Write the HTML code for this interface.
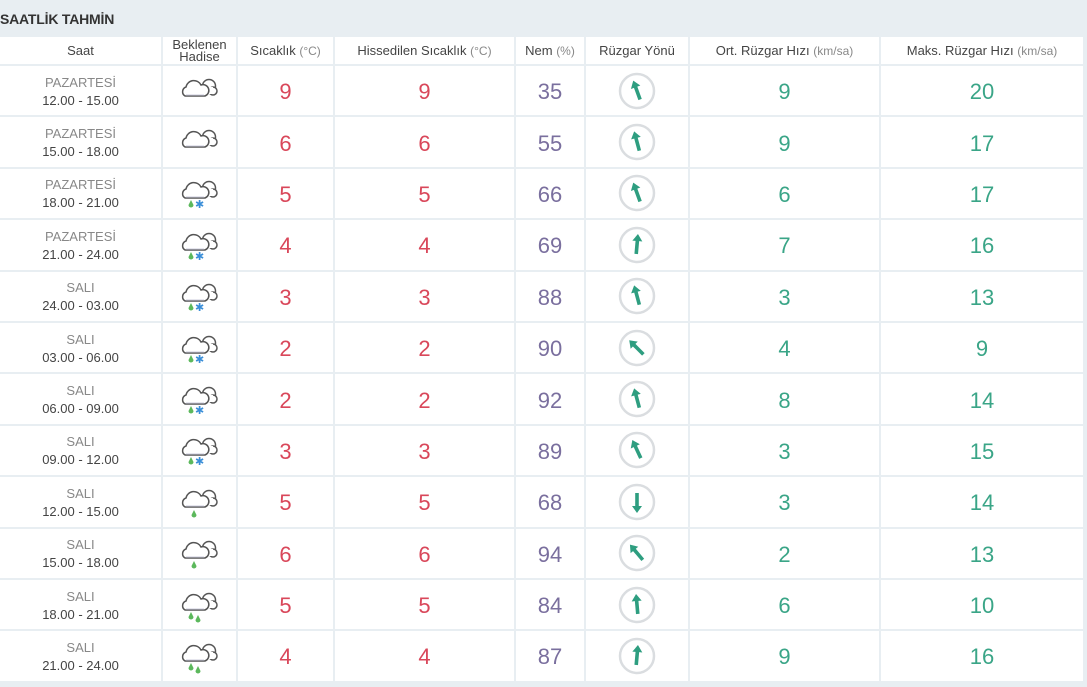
<!DOCTYPE html>
<html><head><meta charset="utf-8"><style>
body{margin:0;width:1087px;height:687px;background:#e8eef2;font-family:"Liberation Sans",sans-serif;overflow:hidden}
.title{position:absolute;left:0;top:0;width:1087px;height:37px;line-height:39px;font-weight:bold;font-size:14px;color:#333;letter-spacing:-0.2px}
.grid{position:absolute;left:0;top:37px;display:grid;grid-template-columns:161px 73px 95px 179px 68px 102px 189px 202px;grid-template-rows:27px repeat(12,49.4px);gap:2px;padding-right:2px;background:#e8eef2}
.grid div{background:#fff;display:flex;align-items:center;justify-content:center;text-align:center}
.h{font-size:13px;color:#444;line-height:12px}
.h small{font-size:12px;color:#888}
.t{flex-direction:column;font-size:13px;color:#444;line-height:18px;padding-top:2px}
.t span{color:#888}
.r{color:#d9475a;font-size:22px;padding-top:3px}
.p{color:#7a6f9e;font-size:22px;padding-top:3px}
.g{color:#3aa587;font-size:22px;padding-top:3px}
</style></head><body>
<div class="title">SAATLİK TAHMİN</div>
<div class="grid" id="g">
<div class="h">Saat</div><div class="h">Beklenen<br>Hadise</div><div class="h">Sıcaklık&nbsp;<small>(°C)</small></div><div class="h">Hissedilen Sıcaklık&nbsp;<small>(°C)</small></div><div class="h">Nem&nbsp;<small>(%)</small></div><div class="h">Rüzgar Yönü</div><div class="h">Ort. Rüzgar Hızı&nbsp;<small>(km/sa)</small></div><div class="h">Maks. Rüzgar Hızı&nbsp;<small>(km/sa)</small></div>
</div>
<script>
var rows=[["PAZARTESİ","12.00 - 15.00",0,9,9,35,-20,9,20],["PAZARTESİ","15.00 - 18.00",0,6,6,55,-15,9,17],["PAZARTESİ","18.00 - 21.00",1,5,5,66,-20,6,17],["PAZARTESİ","21.00 - 24.00",1,4,4,69,5,7,16],["SALI","24.00 - 03.00",1,3,3,88,-15,3,13],["SALI","03.00 - 06.00",1,2,2,90,-45,4,9],["SALI","06.00 - 09.00",1,2,2,92,-15,8,14],["SALI","09.00 - 12.00",1,3,3,89,-25,3,15],["SALI","12.00 - 15.00",2,5,5,68,180,3,14],["SALI","15.00 - 18.00",2,6,6,94,-40,2,13],["SALI","18.00 - 21.00",3,5,5,84,-5,6,10],["SALI","21.00 - 24.00",3,4,4,87,5,9,16]];
var cloud='<circle cx="30" cy="13" r="6.5" fill="#fff" stroke="#555" stroke-width="1.5"/><circle cx="34" cy="18" r="4" fill="#fff" stroke="#555" stroke-width="1.5"/><rect x="27" y="14" width="7" height="7" fill="#fff"/><path d="M6 23 A5 5 0 0 1 7 14 A8 8 0 0 1 22 12 A5.5 5.5 0 0 1 26 23 Z" fill="#fff" stroke="#555" stroke-width="1.5"/><path d="M7 22 H25" stroke="#ccd" stroke-width="1"/>';
var drop=function(x,y){return '<path d="M'+x+' '+y+'l-2.5 5a2.5 2.5 0 0 0 5 0z" fill="#5cb85c"/>'};
var snow='<text x="16" y="33" font-size="11" fill="#3a8ed8" font-family="DejaVu Sans">✱</text>';
var h='';
rows.forEach(function(r){
var ic=cloud;
if(r[2]==1)ic+=drop(12,25)+snow;
if(r[2]==2)ic+=drop(15,26);
if(r[2]==3)ic+=drop(12,25)+drop(19,28);
h+='<div class="t"><span>'+r[0]+'</span>'+r[1]+'</div>';
h+='<div><svg width="42" height="36" viewBox="0 0 42 36">'+ic+'</svg></div>';
h+='<div class="r">'+r[3]+'</div><div class="r">'+r[4]+'</div><div class="p">'+r[5]+'</div>';
h+='<div><svg width="40" height="40" viewBox="0 0 40 40"><circle cx="20" cy="20" r="17" fill="none" stroke="#dadde0" stroke-width="2.5"/><g transform="rotate('+r[6]+' 20 20)"><path d="M20 9l-5 7h3.2v13h3.6v-13h3.2z" fill="#2e9e80"/></g></svg></div>';
h+='<div class="g">'+r[7]+'</div><div class="g">'+r[8]+'</div>';
});
document.getElementById('g').insertAdjacentHTML('beforeend',h);
</script>
</body></html>
